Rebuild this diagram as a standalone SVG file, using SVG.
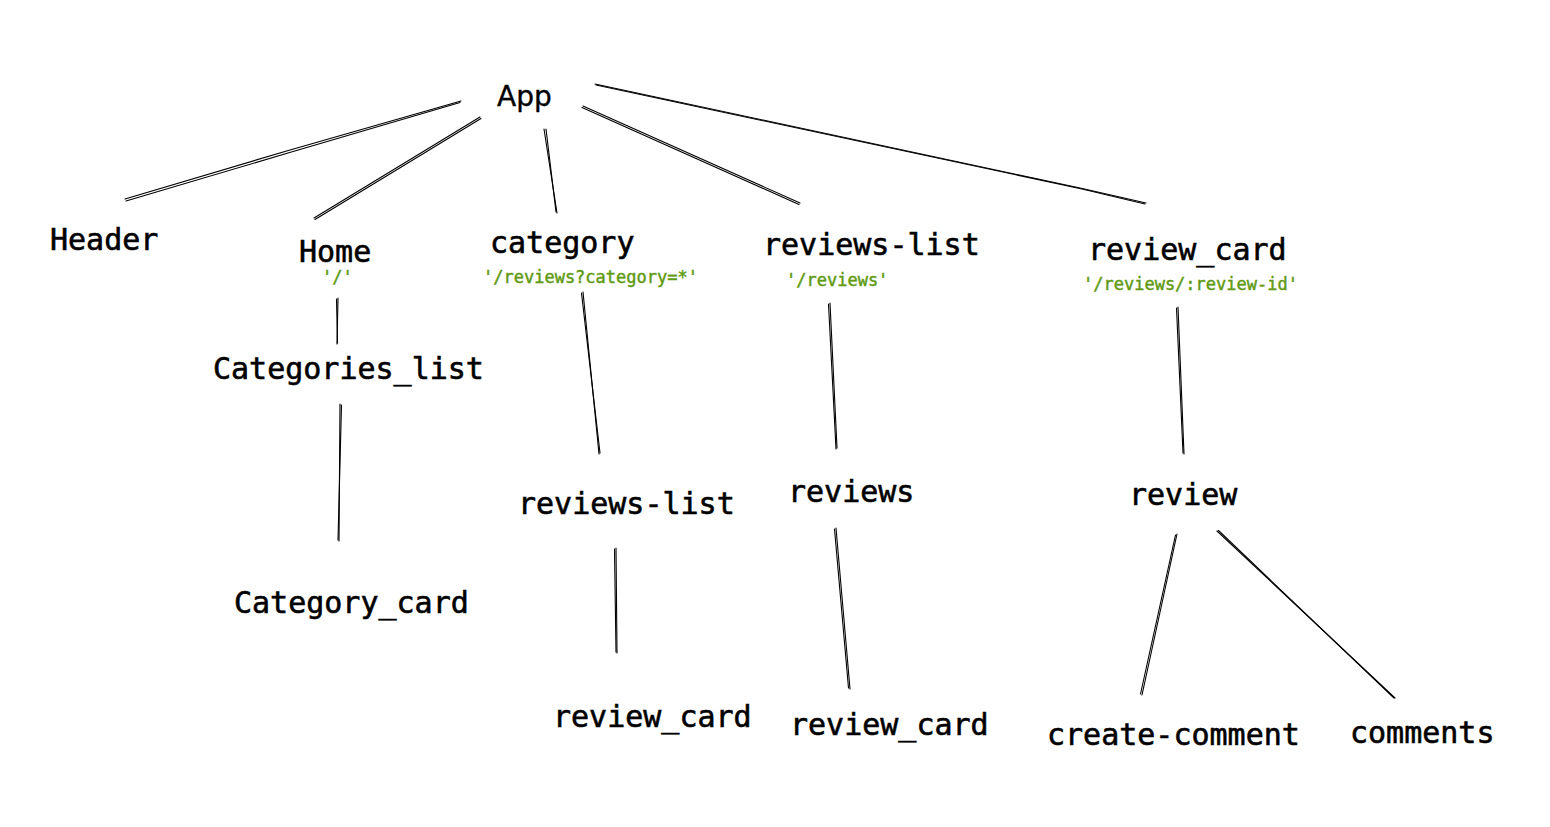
<svg xmlns="http://www.w3.org/2000/svg" width="1550" height="827" viewBox="0 0 1550 827">
<style>
.n{font-family:"DejaVu Sans Mono","Liberation Mono",monospace;font-size:30px;fill:#000;stroke:#000;stroke-width:0.6}
.s{font-family:"DejaVu Sans","Liberation Sans",sans-serif;font-size:28px;fill:#000;stroke:#000;stroke-width:0.4}
.r{font-family:"DejaVu Sans Mono","Liberation Mono",monospace;font-size:17px;fill:#5f9a12;stroke:#5f9a12;stroke-width:0.45}
.c path{fill:none;stroke:#000;stroke-width:1.1;stroke-linecap:round}
</style>
<rect width="1550" height="827" fill="#fff"/>
<g id="connectors" class="c">
<path d="M461 101 L290 150 L125 199"/><path d="M460 102.5 L288 153 L126 201"/>
<path d="M480 117 L314 218"/><path d="M481 118.5 L315 219.5"/>
<path d="M544 129 L557 213"/><path d="M546 129 L556 212"/>
<path d="M583 106 L800 203"/><path d="M582 107.5 L799 204.5"/>
<path d="M595 84 L1080 188 L1146 203"/><path d="M596 85 L1082 189 L1145 204"/>
<path d="M338 298 L337 344"/><path d="M336.5 299 L337.5 343"/>
<path d="M340 404 L339 541"/><path d="M341.5 405 L338 540"/>
<path d="M583 292 L599 454"/><path d="M581.5 293 L600 453"/>
<path d="M616 548 L617 653"/><path d="M614.5 549 L616 652"/>
<path d="M830 303 L837 448"/><path d="M828.5 304 L836 449"/>
<path d="M836 528 L850 689"/><path d="M834.5 529 L848.5 688"/>
<path d="M1178 307 L1184 454"/><path d="M1176.5 308 L1183 453"/>
<path d="M1177 534 L1142 695"/><path d="M1175.5 535 L1140.5 694"/>
<path d="M1217 531 L1395 698"/><path d="M1218.5 530.5 L1394 698"/>
</g>
<g id="app"><text class="s" x="497" y="106">App</text></g>
<g id="header"><text class="n" x="50" y="250">Header</text></g>
<g id="home"><text class="n" x="299" y="262">Home</text><text class="r" x="322" y="283">'/'</text></g>
<g id="category"><text class="n" x="490" y="253">category</text><text class="r" x="483" y="283">'/reviews?category=*'</text></g>
<g id="reviews-list-top"><text class="n" x="763" y="255">reviews-list</text><text class="r" x="786" y="286">'/reviews'</text></g>
<g id="review-card-top"><text class="n" x="1088" y="260">review_card</text><text class="r" x="1083" y="290">'/reviews/:review-id'</text></g>
<g id="categories-list"><text class="n" x="213" y="379">Categories_list</text></g>
<g id="category-card"><text class="n" x="234" y="613">Category_card</text></g>
<g id="reviews-list-mid"><text class="n" x="518" y="514">reviews-list</text></g>
<g id="review-card-1"><text class="n" x="553" y="727">review_card</text></g>
<g id="reviews"><text class="n" x="788" y="502">reviews</text></g>
<g id="review-card-2"><text class="n" x="790" y="735">review_card</text></g>
<g id="review"><text class="n" x="1129" y="505">review</text></g>
<g id="create-comment"><text class="n" x="1047" y="745">create-comment</text></g>
<g id="comments"><text class="n" x="1350" y="743">comments</text></g>
</svg>
